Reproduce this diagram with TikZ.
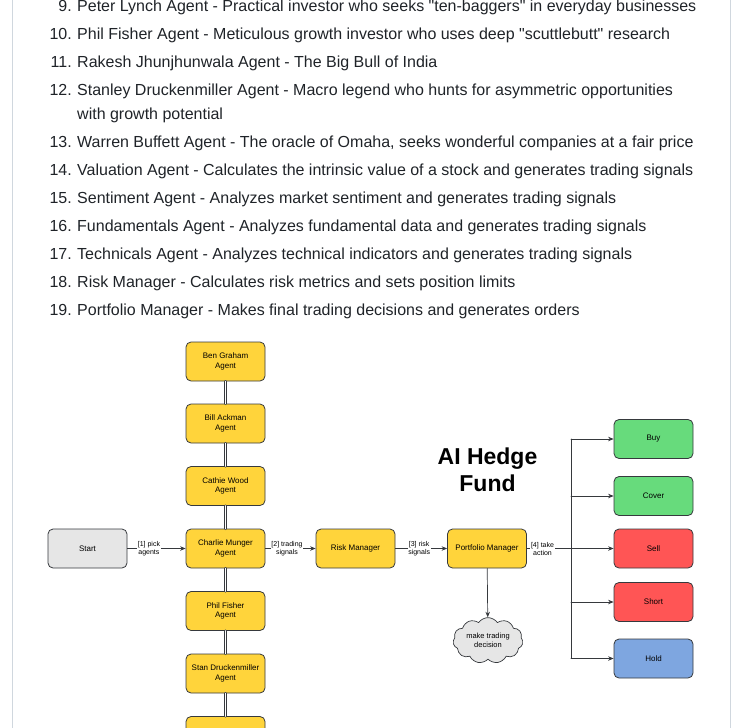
\documentclass[tikz,border=0pt]{standalone}
\usepackage{fontspec}
\setmainfont{Liberation Sans}
\usetikzlibrary{arrows.meta,shapes.symbols}
\definecolor{ink}{HTML}{1F2328}
\definecolor{panel}{HTML}{D0D7DE}
\definecolor{edge}{HTML}{36393D}
\definecolor{agentfill}{HTML}{FFD43B}
\definecolor{startfill}{HTML}{E6E6E6}
\definecolor{buyfill}{HTML}{67DB7C}
\definecolor{sellfill}{HTML}{FF5555}
\definecolor{holdfill}{HTML}{7EA6E0}

\begin{document}
\begin{tikzpicture}[x=1pt,y=-1pt,>={Stealth[length=5.5pt,width=4.5pt]},line cap=round,line join=round,
  box/.style={draw=edge,line width=0.8pt,rounded corners=5pt,minimum width=79pt,minimum height=39pt,inner sep=1pt,align=center,font=\fontsize{8}{9.6}\selectfont},
  agent/.style={box,fill=agentfill},
  num/.style={anchor=base east,inner sep=0pt,text=ink,font=\fontsize{16}{19}\selectfont},
  item/.style={anchor=base west,inner sep=0pt,text=ink,font=\fontsize{16}{19}\selectfont},
  lbl/.style={fill=white,inner sep=0.6pt,align=center,font=\fontsize{7}{8}\selectfont},
  link/.style={draw=edge,line width=0.7pt},
  chain/.style={draw=edge,double=white,line width=0.6pt,double distance=1.6pt}]
\useasboundingbox (0,0) rectangle (747,728);
\clip (0,0) rectangle (747,728);
% panel edges
\draw[panel,line width=1pt] (12.5,0) -- (12.5,728);
\draw[panel,line width=1pt] (730.5,0) -- (730.5,728);

% agent list
\node[num] (n9) at (72,11) {9.};
\node[item] (t9) at (77,11) {Peter Lynch Agent - Practical investor who seeks \textquotedbl ten-baggers\textquotedbl{} in everyday businesses};
\node[num] (n10) at (72,39) {10.};
\node[item] (t10) at (77,39) {Phil Fisher Agent - Meticulous growth investor who uses deep \textquotedbl scuttlebutt\textquotedbl{} research};
\node[num] (n11) at (72,67) {11.};
\node[item] (t11) at (77,67) {Rakesh Jhunjhunwala Agent - The Big Bull of India};
\node[num] (n12) at (72,95) {12.};
\node[item] (t12) at (77,95) {Stanley Druckenmiller Agent - Macro legend who hunts for asymmetric opportunities};
\node[item] (t12b) at (77,119) {with growth potential};
\node[num] (n13) at (72,147) {13.};
\node[item] (t13) at (77,147) {Warren Buffett Agent - The oracle of Omaha, seeks wonderful companies at a fair price};
\node[num] (n14) at (72,175) {14.};
\node[item] (t14) at (77,175) {Valuation Agent - Calculates the intrinsic value of a stock and generates trading signals};
\node[num] (n15) at (72,203) {15.};
\node[item] (t15) at (77,203) {Sentiment Agent - Analyzes market sentiment and generates trading signals};
\node[num] (n16) at (72,231) {16.};
\node[item] (t16) at (77,231) {Fundamentals Agent - Analyzes fundamental data and generates trading signals};
\node[num] (n17) at (72,259) {17.};
\node[item] (t17) at (77,259) {Technicals Agent - Analyzes technical indicators and generates trading signals};
\node[num] (n18) at (72,287) {18.};
\node[item] (t18) at (77,287) {Risk Manager - Calculates risk metrics and sets position limits};
\node[num] (n19) at (72,315) {19.};
\node[item] (t19) at (77,315) {Portfolio Manager - Makes final trading decisions and generates orders};

% agent column
\node[agent] (graham) at (225.5,361.5) {Ben Graham\\Agent};
\node[agent] (ackman) at (225.5,423.5) {Bill Ackman\\Agent};
\node[agent] (wood) at (225.5,486) {Cathie Wood\\Agent};
\node[agent] (munger) at (225.5,548.5) {Charlie Munger\\Agent};
\node[agent] (fisher) at (225.5,611) {Phil Fisher\\Agent};
\node[agent] (druck) at (225.5,673.5) {Stan Druckenmiller\\Agent};
\node[agent] (nextagent) at (225.5,736) {};
\draw[chain] (graham) -- (ackman);
\draw[chain] (ackman) -- (wood);
\draw[chain] (wood) -- (munger);
\draw[chain] (munger) -- (fisher);
\draw[chain] (fisher) -- (druck);
\draw[chain] (druck) -- (nextagent);

% main flow
\node[box,fill=startfill] (start) at (87.5,548.5) {Start};
\node[agent] (risk) at (355.5,548.5) {Risk Manager};
\node[agent] (pm) at (487,548.5) {Portfolio Manager};
\node[cloud,cloud puffs=11,cloud puff arc=110,aspect=1.6,draw=edge,fill=startfill,line width=0.7pt,minimum width=70pt,minimum height=44pt,inner sep=0pt,align=center,font=\fontsize{7.5}{9}\selectfont] (decide) at (488,640.5) {make trading\\decision};
\node[align=center,font=\bfseries\fontsize{23}{27}\selectfont] (title) at (487.5,470) {AI Hedge\\Fund};
\draw[link,->] (start) -- node[lbl,pos=0.37] {[1] pick\\agents} (munger);
\draw[link,->] (munger) -- node[lbl,pos=0.43] {[2] trading\\signals} (risk);
\draw[link,->] (risk) -- node[lbl,pos=0.46] {[3] risk\\signals} (pm);
\draw[link,->] (pm) -- (decide);

% actions
\node[box,fill=buyfill] (buy) at (653.5,439) {Buy};
\node[box,fill=buyfill] (cover) at (653.5,496) {Cover};
\node[box,fill=sellfill] (sell) at (653.5,548.5) {Sell};
\node[box,fill=sellfill] (short) at (653.5,602) {Short};
\node[box,fill=holdfill] (hold) at (653.5,658.5) {Hold};
\coordinate (bus) at (571,0);
\draw[link,->] (pm) -- node[lbl,pos=0.18] {[4] take\\action} (sell);
\draw[link] (bus |- buy) -- (bus |- hold);
\draw[link,->] (bus |- buy) -- (buy);
\draw[link,->] (bus |- cover) -- (cover);
\draw[link,->] (bus |- short) -- (short);
\draw[link,->] (bus |- hold) -- (hold);
\end{tikzpicture}
\end{document}
